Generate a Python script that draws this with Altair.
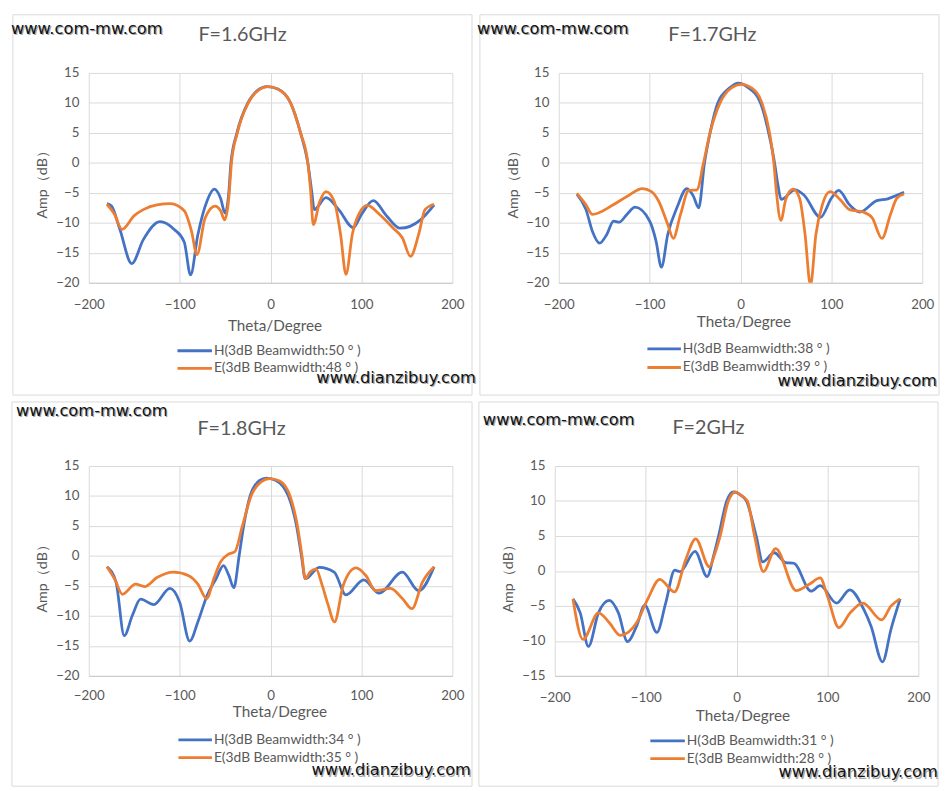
import altair as alt
import pandas as pd

SERIES = ["H", "E"]
COLORS = ["#4472C4", "#ED7D31"]
X_TICKS = [-200, -100, 0, 100, 200]
Y_TICKS_20 = [-20, -15, -10, -5, 0, 5, 10, 15]
Y_TICKS_15 = [-15, -10, -5, 0, 5, 10, 15]
X_TITLE = "Theta/Degree"
Y_TITLE = "Amp（dB）"
SITE_A = "www.com-mw.com"
SITE_B = "www.dianzibuy.com"

# ---- F = 1.6 GHz ----
P1_TITLE = "F=1.6GHz"
P1_LABELS = ["H(3dB Beamwidth:50 °  )", "E(3dB Beamwidth:48 °  )"]
P1_H_THETA = [-180, -175, -166, -152.7, -140, -121.7, -106, -95, -88, -80, -70, -62, -55, -50,
              -46, -43.6, -37, -25, -15, -4, 8, 22, 33, 41, 45.5, 48, 61, 75, 91, 100, 113, 128,
              142.6, 165, 180]
P1_H_AMP = [-6.8, -7.2, -11, -16.8, -12.8, -9.8, -11.1, -13.2, -18.7, -12, -6.4, -4.4, -5.9, -8.4,
            -5, 0, 5, 10, 12, 12.7, 12.3, 10, 5, 0, -5, -7.8, -5.8, -7.8, -10.8, -8.6, -6.3, -8.9,
            -10.9, -9.5, -7]
P1_E_THETA = [-180, -172, -163.5, -150, -140, -125, -110, -95, -87, -81, -72, -61, -55, -50.5,
              -46, -43, -36.5, -24.5, -15, -2, 8, 22, 33, 41, 44, 47, 54, 61, 70, 77, 83, 90, 97,
              106.5, 120, 135, 145, 154, 163, 170, 180]
P1_E_AMP = [-6.9, -8.5, -11.1, -8.8, -7.8, -7, -6.8, -8, -11.4, -15.3, -9.2, -7.2, -8, -9.5,
            -6, 0, 5, 10, 11.9, 12.7, 12.3, 10, 5, 0, -4.5, -10.3, -6.5, -4.8, -6.4, -11.9, -18.6,
            -11.9, -8.6, -7.1, -8.6, -10.9, -12.5, -15.6, -11.9, -7.8, -6.9]

# ---- F = 1.7 GHz ----
P2_TITLE = "F=1.7GHz"
P2_LABELS = ["H(3dB Beamwidth:38 °  )", "E(3dB Beamwidth:39 °  )"]
P2_H_THETA = [-180, -170, -163, -155, -147, -139.7, -133.6, -125, -116, -100, -93, -87, -80, -70,
              -59, -52, -46, -39.6, -33.5, -25, -12, -2.5, 8, 22, 31, 37.5, 41, 44.7, 60, 70, 88,
              100, 108, 120, 131, 150, 162, 172, 180]
P2_H_AMP = [-5.2, -7.8, -11.4, -13.4, -11.9, -9.7, -9.9, -8.6, -7.4, -9.7, -13, -17.4, -11.9, -7.5,
            -4.3, -5.5, -7.5, 0, 5, 10, 12.5, 13.3, 12.6, 10, 5, 0, -3.5, -6.1, -4.5, -5.4, -9.1,
            -5.9, -4.6, -7, -8.2, -6.3, -6, -5.4, -4.9]
P2_E_THETA = [-180, -170, -163, -140, -125, -108, -98, -90, -80, -74, -66, -57, -48, -40.7, -33.5,
              -22.5, -10, 1, 12, 23.6, 32, 36.7, 39.6, 44.4, 50, 57.8, 65, 71, 77, 83, 90, 98.5,
              110, 120, 135, 145, 155.6, 165, 172, 180]
P2_E_AMP = [-5.1, -7, -8.6, -7, -5.6, -4.3, -4.8, -6.4, -10.3, -12.6, -8.6, -4.6, -4.5, 0, 5,
            10, 12.5, 13.1, 12.5, 10, 5, 0, -5, -9.6, -6, -4.4, -5.9, -11.9, -20.4, -11.9, -7, -4.8,
            -6.2, -7.8, -8.2, -9.2, -12.6, -8.6, -5.9, -5.2]

# ---- F = 1.8 GHz ----
P3_TITLE = "F=1.8GHz"
P3_LABELS = ["H(3dB Beamwidth:34 °  )", "E(3dB Beamwidth:35 °  )"]
P3_H_THETA = [-180, -170, -161, -152, -143, -128.5, -110.7, -100, -89, -80, -69.6, -60, -51.8, -46,
              -40.4, -34.6, -29.6, -22.5, -12, -4.6, 6, 19.6, 28.6, 34, 38.2, 53.6, 70, 83, 102.5,
              119.5, 145, 163, 180]
P3_H_AMP = [-1.8, -4.4, -13.3, -9.9, -7.2, -8.1, -5.4, -7.7, -14.2, -11, -6.5, -3.8, -1.6, -3.2,
            -5.3, 0, 5, 10, 12.6, 13, 12.6, 10, 5, 0, -3.8, -1.9, -2.7, -6.5, -4, -6.2, -2.7, -5.8,
            -1.8]
P3_E_THETA = [-180, -171, -163, -148.6, -138.6, -125, -107, -90, -80, -70.4, -62, -55, -46.4, -39.3,
              -31, -21.4, -10, -1, 10, 21.4, 29.6, 34.6, 38.2, 44, 50, 57, 63, 70.4, 80, 94, 105,
              115.5, 132, 145, 155.6, 167, 180]
P3_E_AMP = [-1.8, -4, -6.4, -4.7, -5.1, -3.6, -2.7, -3.3, -4.7, -7.1, -3.6, -1, 0.3, 0.7,
            5, 10, 12.4, 12.9, 12.5, 10, 5, 0, -3.8, -2.6, -2.2, -5, -8, -11, -4.9, -2, -3.3,
            -5.8, -5.4, -7.1, -8.8, -4.4, -1.8]

# ---- F = 2 GHz ----
P4_TITLE = "F=2GHz"
P4_LABELS = ["H(3dB Beamwidth:31 °  )", "E(3dB Beamwidth:28 °  )"]
P4_H_THETA = [-180, -172, -163, -152, -140, -130, -120, -110, -101, -87.7, -78, -68, -62, -45.7,
              -32.4, -25, -19.8, -10.8, -3.6, 5, 10.8, 21.6, 28.8, 41.4, 54, 63, 82, 92, 110, 124.5,
              140, 148, 160.6, 170, 180]
P4_H_AMP = [-4, -6, -10.8, -6, -4.2, -6, -10.1, -7.9, -4.9, -8.8, -4.6, 0.1, -0.1, 2.8,
            -0.8, 2.3, 5, 10, 11.3, 10.8, 10, 5, 1.3, 2.6, 1.2, 1.1, -2.9, -2.1, -4.6, -2.7,
            -5.5, -7.9, -13, -8.3, -4]
P4_E_THETA = [-180, -169, -152, -140, -128, -110, -98, -84.5, -68.3, -56, -45, -30, -24, -18, -9,
              -1, 5, 11.9, 19.8, 29.5, 43, 65.5, 80, 92, 100, 112.6, 125, 139, 159.6, 170, 180]
P4_E_AMP = [-4, -9.8, -6, -7.4, -9.2, -7.4, -4.1, -1.2, -3, 1.6, 4.6, 0.6, 2.4, 5, 10,
            11.3, 10.8, 10, 5, -0.1, 3.2, -2.8, -1.9, -1, -3.6, -8.1, -6, -4.6, -7, -5, -4]

TXT = "#595959"
FONT = "Lato"
WM_FONT = "DejaVu Sans"
W, H = 369, 213


def one(text, x, y, **kw):
    return alt.Chart(pd.DataFrame({"t": [text]})).mark_text(**kw).encode(
        text="t:N", x=alt.value(x), y=alt.value(y))


def panel(title, h_t, h_a, e_t, e_a, labels, yticks, L):
    dh = pd.DataFrame({"theta": h_t, "amp": h_a, "s": SERIES[0]})
    de = pd.DataFrame({"theta": e_t, "amp": e_a, "s": SERIES[1]})
    x = alt.X("theta:Q", scale=alt.Scale(domain=[-200, 200], nice=False),
              axis=alt.Axis(values=X_TICKS, title=None, labelFlush=False, domain=True,
                            domainColor="#C8C8C8", labelPadding=L["xlp"]))
    y = alt.Y("amp:Q", scale=alt.Scale(domain=[min(yticks), max(yticks)], nice=False),
              axis=alt.Axis(values=yticks, title=None, domain=False, labelPadding=10))
    col = alt.Color("s:N", scale=alt.Scale(domain=SERIES, range=COLORS), legend=None)
    lh = alt.Chart(dh).mark_line(interpolate="monotone", strokeWidth=2.8, clip=True).encode(x=x, y=y, color=col)
    le = alt.Chart(de).mark_line(interpolate="monotone", strokeWidth=2.8, clip=True).encode(x=x, y=y, color=col)

    bx = L["box"]
    box = alt.Chart(pd.DataFrame({"a": [0]})).mark_rect(
        fill="transparent", stroke="#D9D9D9", strokeWidth=1).encode(
        x=alt.value(bx[0]), x2=alt.value(bx[1]), y=alt.value(bx[2]), y2=alt.value(bx[3]))

    t = one(title, L["title"][0], L["title"][1], font=FONT, fontSize=20, color=TXT,
            align="center", baseline="middle")
    yt = one(Y_TITLE, L["ytitle"][0], L["ytitle"][1], font=FONT, fontSize=14.5, color=TXT,
             align="center", baseline="middle", angle=270)
    xt = one(X_TITLE, L["xtitle"][0], L["xtitle"][1], font=FONT, fontSize=15.5, color=TXT,
             align="center", baseline="middle")

    lx0, lx1, ly0, ly1 = L["leg"]
    leg = []
    for lab, c, ly in zip(labels, COLORS, [ly0, ly1]):
        leg.append(alt.Chart(pd.DataFrame({"t": [lab]})).mark_rule(strokeWidth=2.8, color=c).encode(
            x=alt.value(lx0), x2=alt.value(lx1), y=alt.value(ly)))
        leg.append(one(lab, lx1 + 2, ly, font=FONT, fontSize=14, color=TXT, align="left",
                       baseline="middle"))

    wa = L["wa"]
    wb = L["wb"]
    marks = [
        one(SITE_A, wa[0] + 1.2, wa[1] + 1.2, font=WM_FONT, fontSize=16.5, color="#A8A8A8",
            align="left", baseline="middle"),
        one(SITE_A, wa[0], wa[1], font=WM_FONT, fontSize=16.5, color="#111111",
            align="left", baseline="middle"),
        one(SITE_B, wb[0] + 1.2, wb[1] + 1.2, font=WM_FONT, fontSize=16.5, color="#A8A8A8",
            align="left", baseline="middle"),
        one(SITE_B, wb[0], wb[1], font=WM_FONT, fontSize=16.5, color="#111111",
            align="left", baseline="middle"),
    ]
    return alt.layer(box, lh, le, t, yt, xt, *leg, *marks).properties(width=W, height=H)


L1 = dict(box=(-77, 389, -59, 327), title=(156, -38), ytitle=(-46, 110), xtitle=(189, 257),
          leg=(90, 125, 282, 300), wa=(-79, -45), wb=(231, 310), xlp=15)
L2 = dict(box=(-80, 386, -59, 327), title=(156, -38), ytitle=(-45, 110), xtitle=(188, 253),
          leg=(90, 124, 280, 299), wa=(-83, -45), wb=(222, 313), xlp=15)
L3 = dict(box=(-78, 389, -65, 325), title=(155, -37), ytitle=(-46, 111), xtitle=(194, 250),
          leg=(91, 125, 278, 296), wa=(-74, -56), wb=(226, 309), xlp=13)
L4 = dict(box=(-77, 389, -65, 325), title=(156, -38), ytitle=(-46, 111), xtitle=(191, 254),
          leg=(97, 132, 279, 297), wa=(-73, -47), wb=(227, 311), xlp=15)

p1 = panel(P1_TITLE, P1_H_THETA, P1_H_AMP, P1_E_THETA, P1_E_AMP, P1_LABELS, Y_TICKS_20, L1)
p2 = panel(P2_TITLE, P2_H_THETA, P2_H_AMP, P2_E_THETA, P2_E_AMP, P2_LABELS, Y_TICKS_20, L2)
p3 = panel(P3_TITLE, P3_H_THETA, P3_H_AMP, P3_E_THETA, P3_E_AMP, P3_LABELS, Y_TICKS_20, L3)
p4 = panel(P4_TITLE, P4_H_THETA, P4_H_AMP, P4_E_THETA, P4_E_AMP, P4_LABELS, Y_TICKS_15, L4)

chart = alt.vconcat(
    alt.hconcat(p1, p2, spacing=108, bounds="flush"),
    alt.hconcat(p3, p4, spacing=104, bounds="flush"),
    spacing=5,
).properties(padding={"left": 3, "top": 0, "right": 0, "bottom": 0},
             background="white").configure_view(strokeWidth=0).configure_axis(
    grid=True, gridColor="#D9D9D9", gridWidth=1, ticks=False, tickSize=0,
    labelFont=FONT, labelFontSize=13.5, labelColor=TXT,
)

chart.save("out.html", embed_options={"renderer": "svg", "actions": False})
